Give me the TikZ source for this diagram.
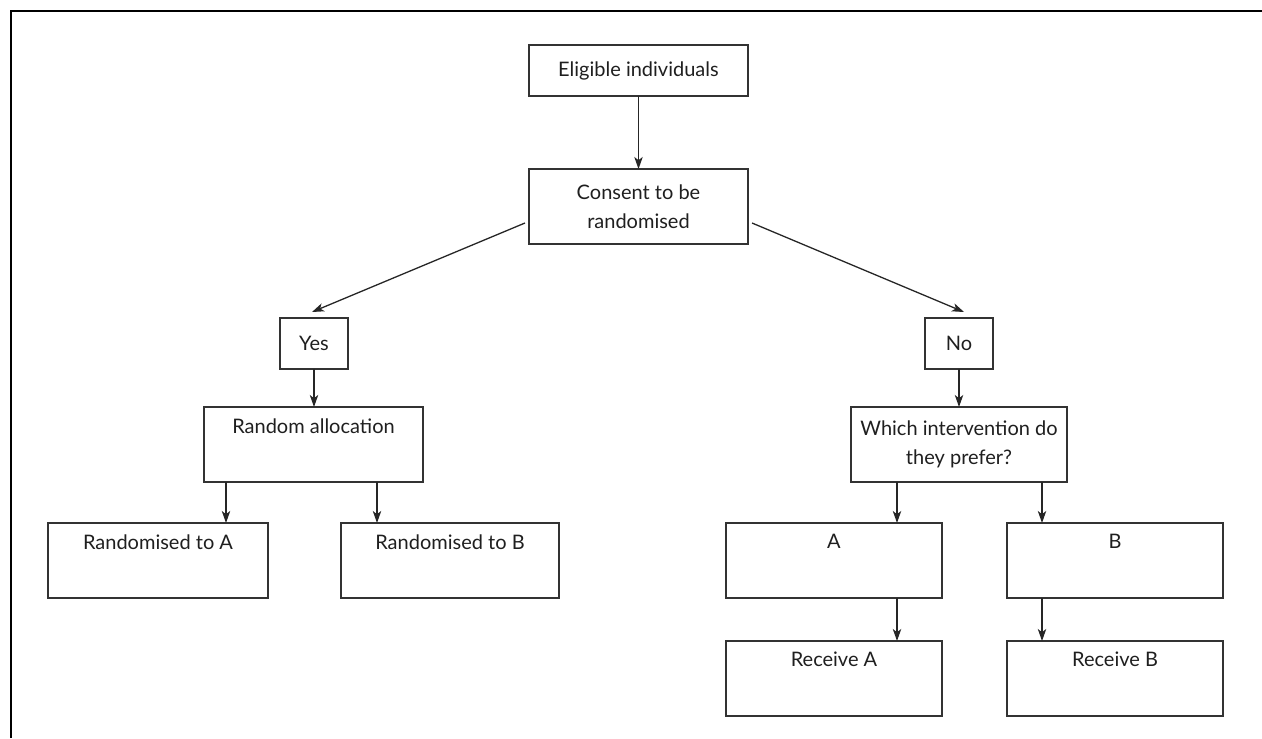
\documentclass[tikz,border=0pt]{standalone}
\usepackage{fontspec}
\setmainfont{Lato}
\usetikzlibrary{arrows.meta,calc}
\begin{document}
\begin{tikzpicture}[x=0.5pt,y=-0.5pt,
  every node/.style={font=\fontsize{10}{14.5}\selectfont, text=black!88},
  box/.style={draw=black!80, line width=0.65pt, rectangle, align=center, inner sep=0pt, outer sep=0pt, minimum height=37.5pt},
  wbox/.style={box, minimum width=109.5pt},
  sbox/.style={box, minimum width=34pt, minimum height=25.5pt},
  arr/.style={draw=black!85, line width=0.65pt, -{Stealth[length=6pt,width=4.2pt,inset=1.6pt]}},
  frame/.style={draw=black, line width=1pt}]
\useasboundingbox (0,0) rectangle (1262,738);
\coordinate (ftl) at (10.5,11);
\coordinate (ftr) at (1262,11);
\coordinate (fbl) at (10.5,738);
\draw[frame] (fbl) -- (ftl) -- (ftr);

\node[wbox, minimum height=25.5pt] (elig) at (638.5,70.5) {Eligible individuals};
\node[wbox] (consent) at (638.5,206.5) {Consent to be\\randomised};
\node[sbox] (yes) at (314,343.5) {Yes};
\node[sbox] (no) at (959,343.5) {No};
\node[wbox] (rand) at (313.5,444.5) {Random allocation\\\strut};
\node[box, minimum width=108pt] (which) at (959,444.5) {Which intervention do\\they prefer?};
\node[box, minimum width=110pt] (ra) at (158,560.5) {Randomised to A\\\strut};
\node[box, minimum width=109pt] (rb) at (450,560.5) {Randomised to B\\\strut};
\node[box, minimum width=108pt] (a) at (834,560.5) {A\\\strut};
\node[box, minimum width=108pt] (b) at (1115,560.5) {B\\\strut};
\node[box, minimum width=108pt] (reca) at (834,678.5) {Receive A\\\strut};
\node[box, minimum width=108pt] (recb) at (1115,678.5) {Receive B\\\strut};

\coordinate (x1) at (226,0);
\coordinate (x2) at (377,0);
\coordinate (x3) at (897,0);
\coordinate (x4) at (1042,0);

\draw[arr] (elig) -- (consent);
\draw[arr] ($(consent.west)+(-4,16.5)$) -- ($(yes.north)+(-2,-6)$);
\draw[arr] ($(consent.east)+(4,16.5)$) -- ($(no.north)+(5,-6)$);
\draw[arr] (yes) -- (yes |- rand.north);
\draw[arr] (no) -- (no |- which.north);
\draw[arr] (rand.south -| x1) -- (ra.north -| x1);
\draw[arr] (rand.south -| x2) -- (rb.north -| x2);
\draw[arr] (which.south -| x3) -- (a.north -| x3);
\draw[arr] (which.south -| x4) -- (b.north -| x4);
\draw[arr] (a.south -| x3) -- (reca.north -| x3);
\draw[arr] (b.south -| x4) -- (recb.north -| x4);
\end{tikzpicture}
\end{document}
